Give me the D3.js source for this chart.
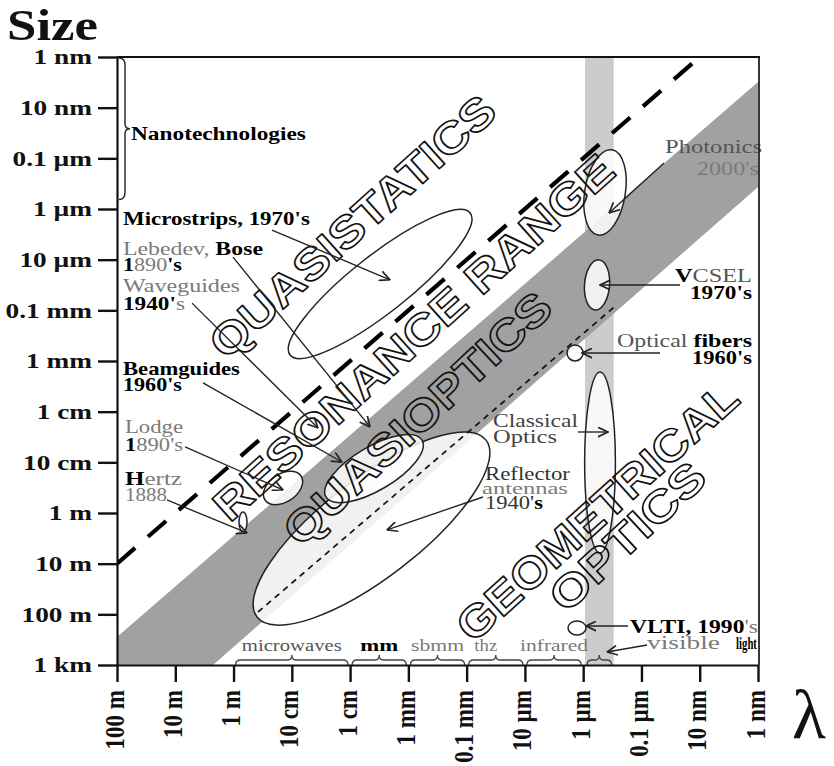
<!DOCTYPE html>
<html><head><meta charset="utf-8">
<script src="https://cdn.jsdelivr.net/npm/d3@7"></script>
<style>body{margin:0;background:#fff}svg{display:block}</style>
</head><body>
<script>
// ---------- DATA ----------
const xTickValues = [100, 10, 1, 0.1, 0.01, 1e-3, 1e-4, 1e-5, 1e-6, 1e-7, 1e-8, 1e-9];
const xTickLabels = ["100 m", "10 m", "1 m", "10 cm", "1 cm", "1 mm", "0.1 mm", "10 µm", "1 µm", "0.1 µm", "10 nm", "1 nm"];
const yTickValues = [1e-9, 1e-8, 1e-7, 1e-6, 1e-5, 1e-4, 1e-3, 1e-2, 1e-1, 1, 10, 100, 1000];
const yTickLabels = ["1 nm", "10 nm", "0.1 µm", "1 µm", "10 µm", "0.1 mm", "1 mm", "1 cm", "10 cm", "1 m", "10 m", "100 m", "1 km"];

// resonance band polygon [wavelength m, size m]
const resonanceBand = [[100, 280], [1e-9, 3.1e-9], [1e-9, 3.7e-7], [2.25, 1000], [100, 1000]];
// visible light band (wavelength range)
const visibleBand = [9.3e-7, 3.0e-7];
// thick dashed boundary size = lambda/10
const quasistaticLimit = [[100, 10], [1e-8, 1e-9]];
// thin dashed line
const opticsLimit = [[0.38, 90], [2.8e-7, 8.2e-5]];

// ellipses: major-axis end points [wavelength, size]
const ellipseNames = ["Microstrips", "Photonics", "VCSEL", "Optical fibers", "Classical optics", "VLTI", "Reflector antennas", "Beamguides", "Lodge", "Hertz"];
const ellipseEnds = [
  [[0.107, 7.6e-4], [8.7e-5, 1.2e-6]],
  [[3.2e-7, 6.8e-8], [5.56e-7, 3.26e-6]],
  [[5.35e-7, 1.01e-5], [6.26e-7, 9.8e-5]],
  [[1.38e-6, 4.83e-4], [1.38e-6, 1.0e-3]],
  [[5.14e-7, 1.65e-3], [5.14e-7, 6.15]],
  [[1.82e-6, 185.8], [8.94e-7, 185.8]],
  [[0.396, 112.7], [4.65e-5, 3.64e-2]],
  [[0.0259, 0.483], [5.83e-4, 3.64e-2]],
  [[0.288, 0.553], [0.0695, 0.186]],
  [[0.688, 0.955], [0.688, 2.37]]
];
const ellipseAspect = [0.25, 0.47, 0.5, 1, 0.17, 0.78, 0.34, 0.39, 0.65, 0.4];

// arrows from label to target [wavelength, size]
const arrowFrom = [[0.219, 2.6e-6], [1.02, 8.9e-6], [5.16, 7.2e-5], [3.34, 2.7e-3], [6.8, 0.0498], [13.9, 0.553],
  [4.1e-8, 1.24e-7], [2.18e-8, 3.16e-5], [4.8e-8, 6.96e-4], [1.23e-6, 0.0252], [5.24e-5, 0.483], [1.7e-7, 170], [8.0e-8, 403]];
const arrowTo = [[2.07e-3, 2.5e-5], [4.55e-3, 0.02], [0.0355, 0.021], [0.0138, 0.0985], [0.1416, 0.351], [0.587, 2.48],
  [3.6e-7, 1.2e-6], [5.14e-7, 3.16e-5], [1.05e-6, 6.96e-4], [3.75e-7, 0.0252], [2.32e-3, 2.16], [8.94e-7, 170], [3.9e-7, 553]];

// spectral regions along the bottom
const regionNames = ["microwaves", "mm", "sbmm", "thz", "infrared", ""];
const regionSpans = [[1, 0.01], [0.01, 1e-3], [1e-3, 1e-4], [1e-4, 1e-5], [1e-5, 1e-6], [9.3e-7, 3.0e-7]];
// nanotechnology size span
const nanoSpan = [1.05e-9, 6.5e-7];

// region names (outlined)
const regionTitles = ["QUASISTATICS", "RESONANCE RANGE", "QUASIOPTICS", "GEOMETRICAL", "OPTICS"];

// ---------- DRAW ----------
const svg = d3.select("body").append("svg").attr("width", 834).attr("height", 766);
const x = d3.scaleLog().domain([100, 1e-9]).range([117, 758]);
const y = d3.scaleLog().domain([1e-9, 1000]).range([57, 665]);
const P = d => [x(d[0]), y(d[1])];
const SERIF = "'Liberation Serif', 'Times New Roman', serif";

svg.append("defs").append("clipPath").attr("id", "plot")
  .append("rect").attr("x", 117).attr("y", 57).attr("width", 642).attr("height", 608);
svg.select("defs").append("marker").attr("id", "arr").attr("viewBox", "0 0 10 10")
  .attr("refX", 9.5).attr("refY", 5).attr("markerWidth", 11).attr("markerHeight", 11)
  .attr("markerUnits", "userSpaceOnUse").attr("orient", "auto")
  .append("path").attr("d", "M0,0.5 L9.5,5 L0,9.5").attr("fill", "none").attr("stroke", "#222").attr("stroke-width", 1.5);

const plot = svg.append("g").attr("clip-path", "url(#plot)");

// visible band
plot.append("rect").attr("x", x(visibleBand[0])).attr("width", x(visibleBand[1]) - x(visibleBand[0]))
  .attr("y", y(1e-9)).attr("height", y(1000) - y(1e-9)).attr("fill", "#cccccc");
// resonance band
plot.append("path").attr("d", d3.line()(resonanceBand.map(P)) + "Z").attr("fill", "#a1a1a1");

// ellipses
ellipseEnds.forEach((e, i) => {
  const a = P(e[0]), b = P(e[1]);
  const cx = (a[0] + b[0]) / 2, cy = (a[1] + b[1]) / 2;
  const rx = Math.hypot(b[0] - a[0], b[1] - a[1]) / 2;
  const ang = Math.atan2(b[1] - a[1], b[0] - a[0]) * 180 / Math.PI;
  plot.append("ellipse").attr("class", "ell").attr("data-name", ellipseNames[i])
    .attr("transform", `translate(${cx},${cy}) rotate(${ang})`)
    .attr("rx", rx).attr("ry", rx * ellipseAspect[i])
    .attr("fill", "#fff").attr("fill-opacity", 0.85)
    .attr("stroke", "#222").attr("stroke-width", 1.5);
});

// thin dashed line
plot.append("path").attr("d", d3.line()(opticsLimit.map(P)))
  .attr("stroke", "#111").attr("stroke-width", 1.7).attr("stroke-dasharray", "6,5").attr("fill", "none");

// outlined region titles
const titlePlace = [
  {cx: 352, cy: 226, a: -42, len: 368},
  {cx: 413, cy: 337, a: -42, len: 522},
  {cx: 417, cy: 418, a: -43, len: 348},
  {cx: 597, cy: 511, a: -42, len: 362},
  {cx: 627, cy: 536, a: -43, len: 196}
];
regionTitles.forEach((t, i) => {
  const p = titlePlace[i];
  plot.append("g").attr("transform", `translate(${p.cx},${p.cy}) rotate(${p.a})`)
    .append("text").attr("text-anchor", "middle").attr("dy", "0.36em")
    .attr("font-family", "'Liberation Sans', Arial, sans-serif").attr("font-weight", "bold")
    .attr("font-size", 44).attr("textLength", p.len).attr("lengthAdjust", "spacingAndGlyphs")
    .attr("fill", "none").attr("stroke", "#111").attr("stroke-width", 1.6)
    .attr("stroke-linejoin", "round").text(t);
});

// thick dashed line
plot.append("path").attr("d", d3.line()(quasistaticLimit.map(P)))
  .attr("stroke", "#000").attr("stroke-width", 4.2).attr("stroke-dasharray", "24,17").attr("fill", "none");

// arrows
arrowFrom.forEach((f, i) => {
  const a = P(f), b = P(arrowTo[i]);
  svg.append("line").attr("x1", a[0]).attr("y1", a[1]).attr("x2", b[0]).attr("y2", b[1])
    .attr("stroke", "#222").attr("stroke-width", 1.35).attr("marker-end", "url(#arr)");
});

// labels
function label(x0, y0, w, fs, pieces, anchor) {
  const g = svg.append("g").attr("transform", `translate(${x0},${y0})`);
  const t = g.append("text").attr("font-family", SERIF)
    .attr("font-size", fs).attr("text-anchor", anchor || "start");
  pieces.forEach(p => t.append("tspan").text(p[0]).attr("fill", p[1]).attr("font-weight", p[2] || "bold"));
  const bw = t.node().getComputedTextLength();
  if (w && bw > 0) g.attr("transform", `translate(${x0},${y0}) scale(${w / bw},1)`);
  return g;
}
const G1 = "#7a7a7a", G2 = "#555", K = "#000";
label(131, 140, 175, 18, [["Nanotechnologies", K]]);
label(123, 225, 187, 19, [["Microstrips, 1970's", K]]);
label(123, 255, 140, 18, [["Lebedev, ", G1, "normal"], ["Bose", K]]);
label(123, 271, 59, 18, [["1", K], ["890", G1, "normal"], ["'s", K]]);
label(123, 292, 117, 18, [["Waveguides", G1, "normal"]]);
label(123, 310, 62, 18, [["1940'", K], ["s", G1, "normal"]]);
label(123, 375, 117, 18, [["Beamguides", K]]);
label(123, 391, 59, 18, [["1960's", K]]);
label(125, 433, 58, 18, [["Lodge", G1, "normal"]]);
label(125, 451, 58, 18, [["1", K], ["890's", G1, "normal"]]);
label(125, 485, 57, 18, [["H", K], ["ertz", G1, "normal"]]);
label(125, 501, 42, 18, [["1888", G1, "normal"]]);
label(665, 153, 97, 19, [["Photonics", G2, "normal"]]);
label(697, 175, 62, 19, [["2000's", G1, "normal"]]);
label(675, 282, 77, 19, [["V", K], ["CSEL", G2, "normal"]]);
label(690, 299, 62, 19, [["1970's", K]]);
label(617, 347, 135, 19, [["Optical ", G2, "normal"], ["fibers", K]]);
label(692, 364, 60, 19, [["1960's", K]]);
label(493, 427, 85, 18, [["Classical", "#444", "normal"]]);
label(493, 443, 64, 18, [["Optics", "#444", "normal"]]);
label(485, 480, 85, 18, [["Reflector", "#333", "normal"]]);
label(482, 494, 86, 16, [["antennas", G1, "normal"]]);
label(485, 509, 58, 18, [["1940'", "#333", "normal"], ["s", K]]);
label(630, 633, 128, 19, [["VLTI, 1990", K], ["'s", G1, "normal"]]);
label(647, 649, 73, 18, [["visible", G1, "normal"]]);
label(736, 649, 21, 16, [["light", K]]);

// bottom region braces + names
const regionWidths = [100, 38, 53, 23, 68, 0];
const regionColors = [G2, K, G1, G1, G1, K];
regionSpans.forEach((s, i) => {
  const x1 = x(s[0]) + 2, x2 = x(s[1]) - 2, m = (x1 + x2) / 2;
  svg.append("path").attr("d",
    `M${x1},665 Q${x1},660 ${x1 + 5},660 L${m - 4},660 Q${m},660 ${m},655 Q${m},660 ${m + 4},660 L${x2 - 5},660 Q${x2},660 ${x2},665`)
    .attr("fill", "none").attr("stroke", "#444").attr("stroke-width", 1.3);
  if (regionNames[i]) label(m + (i === 3 ? -10 : 0), 651, regionWidths[i], 17,
    [[regionNames[i], regionColors[i], i === 1 ? "bold" : "normal"]], "middle");
});

// nanotech brace
{
  const y1 = y(nanoSpan[0]), y2 = y(nanoSpan[1]), m = (y1 + y2) / 2;
  svg.append("path").attr("d",
    `M119,${y1} Q125,${y1} 125,${y1 + 7} L125,${m - 5} Q125,${m} 130,${m} Q125,${m} 125,${m + 5} L125,${y2 - 7} Q125,${y2} 119,${y2}`)
    .attr("fill", "none").attr("stroke", "#222").attr("stroke-width", 1.4);
}

// axes
const yAxis = svg.append("g").attr("transform", "translate(117,0)")
  .call(d3.axisLeft(y).tickValues(yTickValues).tickFormat((d, i) => yTickLabels[i]).tickSize(19).tickSizeOuter(0));
yAxis.select(".domain").attr("stroke", "#111").attr("stroke-width", 2.2);
yAxis.selectAll(".tick line").attr("stroke", "#111").attr("stroke-width", 2.4);
yAxis.selectAll(".tick text").attr("x", 0).attr("dy", "0.33em")
  .attr("transform", "translate(-25,0) scale(1.3,1)")
  .attr("font-family", SERIF).attr("font-weight", "bold")
  .attr("font-size", 21).attr("fill", "#111");

const xAxis = svg.append("g").attr("transform", "translate(0,665)")
  .call(d3.axisBottom(x).tickValues(xTickValues).tickFormat((d, i) => xTickLabels[i]).tickSize(17).tickSizeOuter(0));
xAxis.select(".domain").attr("stroke", "#111").attr("stroke-width", 2.2);
xAxis.selectAll(".tick line").attr("stroke", "#111").attr("stroke-width", 2.4);
xAxis.selectAll(".tick text").attr("x", 0).attr("y", 0).attr("dy", 0)
  .attr("transform", "translate(6,25) scale(1.15,1) rotate(-90)").attr("text-anchor", "end")
  .attr("font-family", SERIF).attr("font-weight", "bold")
  .attr("font-size", 23).attr("fill", "#111");

// frame top + right
svg.append("line").attr("x1", 117).attr("x2", 760).attr("y1", y(1e-9)).attr("y2", y(1e-9)).attr("stroke", "#111").attr("stroke-width", 2);
svg.append("line").attr("x1", 759).attr("x2", 759).attr("y1", y(1e-9)).attr("y2", y(1000)).attr("stroke", "#222").attr("stroke-width", 1.8);

// titles
svg.append("text").attr("x", 7).attr("y", 40).attr("font-family", SERIF)
  .attr("font-weight", "bold").attr("font-size", 44).attr("textLength", 91).attr("lengthAdjust", "spacingAndGlyphs")
  .attr("fill", "#111").text("Size");
svg.append("text").attr("x", 792).attr("y", 738).attr("font-family", SERIF)
  .attr("font-size", 70).attr("fill", "#111").text("λ");
</script>
</body></html>
